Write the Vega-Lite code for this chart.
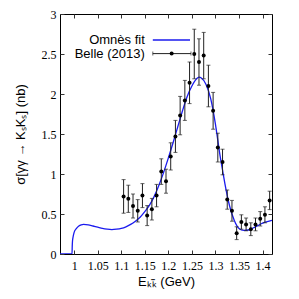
{
  "$schema": "https://vega.github.io/schema/vega-lite/v6.json",
  "width": 212,
  "height": 240,
  "autosize": "none",
  "padding": {"left": 60, "top": 14, "right": 27, "bottom": 45},
  "background": "white",
  "config": {
    "view": {"stroke": "black", "strokeWidth": 1},
    "axis": {"grid": false, "domain": false, "tickColor": "#333", "tickSize": -4, "labelFont": "Liberation Serif", "labelFontSize": 12, "labelColor": "black", "titleFont": "Liberation Sans", "titleFontSize": 13, "titleFontWeight": "normal", "titleColor": "black"}
  },
  "datasets": {
    "curve": [
      {"E": 0.97, "s": 0}, {"E": 0.9955, "s": 0}, {"E": 0.996, "s": 0.1}, {"E": 0.9965, "s": 0.16}, {"E": 0.998, "s": 0.22},
      {"E": 1.0, "s": 0.27}, {"E": 1.005, "s": 0.32}, {"E": 1.01, "s": 0.35}, {"E": 1.015, "s": 0.365}, {"E": 1.02, "s": 0.37},
      {"E": 1.03, "s": 0.365}, {"E": 1.04, "s": 0.35}, {"E": 1.05, "s": 0.335}, {"E": 1.06, "s": 0.32}, {"E": 1.07, "s": 0.31},
      {"E": 1.08, "s": 0.305}, {"E": 1.09, "s": 0.31}, {"E": 1.1, "s": 0.32}, {"E": 1.11, "s": 0.34}, {"E": 1.12, "s": 0.37},
      {"E": 1.13, "s": 0.41}, {"E": 1.14, "s": 0.46}, {"E": 1.15, "s": 0.53}, {"E": 1.16, "s": 0.61}, {"E": 1.17, "s": 0.72},
      {"E": 1.18, "s": 0.86}, {"E": 1.19, "s": 1.02}, {"E": 1.2, "s": 1.2}, {"E": 1.21, "s": 1.39}, {"E": 1.22, "s": 1.59},
      {"E": 1.23, "s": 1.79}, {"E": 1.24, "s": 1.97}, {"E": 1.25, "s": 2.1}, {"E": 1.26, "s": 2.19}, {"E": 1.265, "s": 2.21},
      {"E": 1.27, "s": 2.2}, {"E": 1.28, "s": 2.12}, {"E": 1.29, "s": 1.94}, {"E": 1.3, "s": 1.62}, {"E": 1.305, "s": 1.42},
      {"E": 1.31, "s": 1.22}, {"E": 1.315, "s": 1.05}, {"E": 1.32, "s": 0.88}, {"E": 1.33, "s": 0.6}, {"E": 1.34, "s": 0.42},
      {"E": 1.35, "s": 0.32}, {"E": 1.36, "s": 0.295}, {"E": 1.37, "s": 0.3}, {"E": 1.38, "s": 0.325}, {"E": 1.39, "s": 0.355},
      {"E": 1.4, "s": 0.385}, {"E": 1.41, "s": 0.405}, {"E": 1.42, "s": 0.42}
    ],
    "belle": [
      {"E": 1.105, "s": 0.72, "lo": 0.51, "hi": 0.93},
      {"E": 1.115, "s": 0.69, "lo": 0.52, "hi": 0.86},
      {"E": 1.125, "s": 0.60, "lo": 0.45, "hi": 0.75},
      {"E": 1.135, "s": 0.54, "lo": 0.40, "hi": 0.68},
      {"E": 1.145, "s": 0.73, "lo": 0.58, "hi": 0.88},
      {"E": 1.155, "s": 0.48, "lo": 0.355, "hi": 0.605},
      {"E": 1.165, "s": 0.56, "lo": 0.425, "hi": 0.695},
      {"E": 1.175, "s": 0.73, "lo": 0.59, "hi": 0.87},
      {"E": 1.185, "s": 1.03, "lo": 0.87, "hi": 1.19},
      {"E": 1.195, "s": 0.91, "lo": 0.76, "hi": 1.06},
      {"E": 1.205, "s": 1.22, "lo": 1.05, "hi": 1.39},
      {"E": 1.215, "s": 1.47, "lo": 1.27, "hi": 1.67},
      {"E": 1.225, "s": 1.73, "lo": 1.49, "hi": 1.97},
      {"E": 1.235, "s": 1.92, "lo": 1.67, "hi": 2.17},
      {"E": 1.245, "s": 2.14, "lo": 1.88, "hi": 2.40},
      {"E": 1.255, "s": 2.50, "lo": 2.19, "hi": 2.81},
      {"E": 1.265, "s": 2.40, "lo": 2.11, "hi": 2.69},
      {"E": 1.275, "s": 2.48, "lo": 2.19, "hi": 2.77},
      {"E": 1.285, "s": 2.10, "lo": 1.84, "hi": 2.36},
      {"E": 1.295, "s": 1.79, "lo": 1.56, "hi": 2.02},
      {"E": 1.305, "s": 1.33, "lo": 1.15, "hi": 1.51},
      {"E": 1.315, "s": 1.15, "lo": 0.99, "hi": 1.31},
      {"E": 1.325, "s": 0.68, "lo": 0.56, "hi": 0.80},
      {"E": 1.335, "s": 0.54, "lo": 0.41, "hi": 0.67},
      {"E": 1.345, "s": 0.26, "lo": 0.18, "hi": 0.34},
      {"E": 1.355, "s": 0.40, "lo": 0.31, "hi": 0.49},
      {"E": 1.365, "s": 0.37, "lo": 0.29, "hi": 0.45},
      {"E": 1.375, "s": 0.31, "lo": 0.23, "hi": 0.39},
      {"E": 1.385, "s": 0.37, "lo": 0.29, "hi": 0.45},
      {"E": 1.395, "s": 0.44, "lo": 0.35, "hi": 0.53},
      {"E": 1.405, "s": 0.49, "lo": 0.39, "hi": 0.59},
      {"E": 1.415, "s": 0.67, "lo": 0.555, "hi": 0.785}
    ]
  },
  "resolve": {"axis": {"x": "independent", "y": "independent"}},
  "layer": [
    {
      "data": {"name": "curve"},
      "mark": {"type": "line", "color": "#1a1aee", "strokeWidth": 1.3, "interpolate": "monotone", "clip": true},
      "encoding": {
        "x": {"field": "E", "type": "quantitative", "scale": {"domain": [0.97, 1.42], "nice": false, "zero": false},
              "axis": {"orient": "bottom", "values": [1, 1.05, 1.1, 1.15, 1.2, 1.25, 1.3, 1.35, 1.4], "format": ".2~f", "labelPadding": 10, "title": "Eₖₖ̄ (GeV)", "titlePadding": 4}},
        "y": {"field": "s", "type": "quantitative", "scale": {"domain": [0, 3], "nice": false},
              "axis": {"orient": "left", "values": [0, 0.5, 1, 1.5, 2, 2.5, 3], "format": ".1~f", "labelPadding": 8, "title": "σ[γγ → KₛKₛ] (nb)", "titlePadding": 14}}
      }
    },
    {
      "data": {"name": "curve"},
      "mark": {"type": "point", "opacity": 0},
      "encoding": {
        "x": {"field": "E", "type": "quantitative", "axis": {"orient": "top", "values": [1, 1.05, 1.1, 1.15, 1.2, 1.25, 1.3, 1.35, 1.4], "labels": false, "title": null}},
        "y": {"field": "s", "type": "quantitative", "axis": {"orient": "right", "values": [0, 0.5, 1, 1.5, 2, 2.5, 3], "labels": false, "title": null}}
      }
    },
    {
      "data": {"name": "belle"},
      "mark": {"type": "rule", "color": "#222", "strokeWidth": 1},
      "encoding": {
        "x": {"field": "E", "type": "quantitative", "axis": null},
        "y": {"field": "lo", "type": "quantitative", "axis": null},
        "y2": {"field": "hi"}
      }
    },
    {
      "data": {"name": "belle"},
      "mark": {"type": "tick", "orient": "horizontal", "color": "#222", "size": 4, "thickness": 1},
      "encoding": {
        "x": {"field": "E", "type": "quantitative", "axis": null},
        "y": {"field": "lo", "type": "quantitative", "axis": null}
      }
    },
    {
      "data": {"name": "belle"},
      "mark": {"type": "tick", "orient": "horizontal", "color": "#222", "size": 4, "thickness": 1},
      "encoding": {
        "x": {"field": "E", "type": "quantitative", "axis": null},
        "y": {"field": "hi", "type": "quantitative", "axis": null}
      }
    },
    {
      "data": {"name": "belle"},
      "mark": {"type": "circle", "color": "black", "opacity": 1, "size": 16},
      "encoding": {
        "x": {"field": "E", "type": "quantitative", "axis": null},
        "y": {"field": "s", "type": "quantitative", "axis": null}
      }
    },
    {
      "data": {"values": [{"label": "Omnès fit", "yy": 2.675}, {"label": "Belle (2013)", "yy": 2.505}]},
      "mark": {"type": "text", "align": "right", "baseline": "middle", "font": "Liberation Sans", "fontSize": 13, "color": "black"},
      "encoding": {
        "x": {"datum": 1.15, "type": "quantitative", "axis": null},
        "y": {"field": "yy", "type": "quantitative", "axis": null},
        "text": {"field": "label"}
      }
    },
    {
      "data": {"values": [{"k": 1}]},
      "mark": {"type": "rule", "color": "#1a1aee", "strokeWidth": 1.3},
      "encoding": {
        "x": {"datum": 1.167, "type": "quantitative", "axis": null},
        "x2": {"datum": 1.246},
        "y": {"datum": 2.675, "type": "quantitative", "axis": null}
      }
    },
    {
      "data": {"values": [{"k": 1}]},
      "mark": {"type": "rule", "color": "#222", "strokeWidth": 1},
      "encoding": {
        "x": {"datum": 1.167, "type": "quantitative", "axis": null},
        "x2": {"datum": 1.248},
        "y": {"datum": 2.505, "type": "quantitative", "axis": null}
      }
    },
    {
      "data": {"values": [{"xx": 1.167}, {"xx": 1.248}]},
      "mark": {"type": "tick", "orient": "vertical", "color": "#222", "size": 4, "thickness": 1},
      "encoding": {
        "x": {"field": "xx", "type": "quantitative", "axis": null},
        "y": {"datum": 2.505, "type": "quantitative", "axis": null}
      }
    },
    {
      "data": {"values": [{"k": 1}]},
      "mark": {"type": "circle", "color": "black", "opacity": 1, "size": 16},
      "encoding": {
        "x": {"datum": 1.207, "type": "quantitative", "axis": null},
        "y": {"datum": 2.505, "type": "quantitative", "axis": null}
      }
    }
  ]
}
